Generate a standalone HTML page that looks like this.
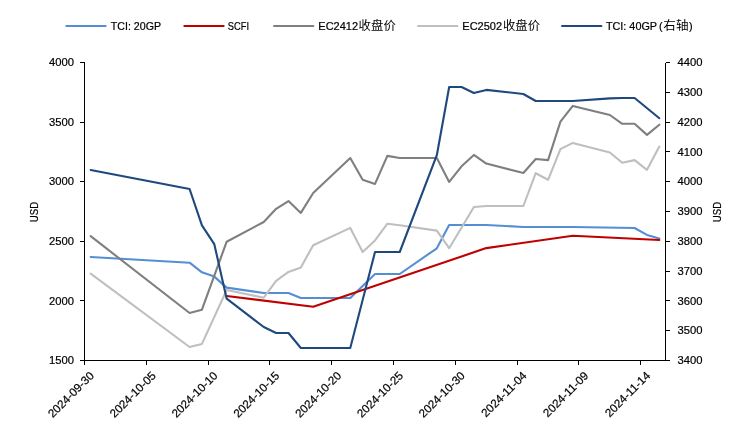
<!DOCTYPE html>
<html><head><meta charset="utf-8"><title>chart</title>
<style>html,body{margin:0;padding:0;background:#fff;width:750px;height:434px;overflow:hidden}svg{display:block;will-change:transform}text.l{stroke:#000;stroke-width:0.2px}</style>
</head><body>
<svg width="750" height="434" viewBox="0 0 750 434">
<rect width="750" height="434" fill="#ffffff"/>
<path d="M84.5 62.5V360.5 M665.5 62.5V360.5 M80 360.5H670 M80 62.50H84.5 M80 122.10H84.5 M80 181.70H84.5 M80 241.30H84.5 M80 300.90H84.5 M80 360.50H84.5 M665.5 62.50H670 M665.5 92.30H670 M665.5 122.10H670 M665.5 151.90H670 M665.5 181.70H670 M665.5 211.50H670 M665.5 241.30H670 M665.5 271.10H670 M665.5 300.90H670 M665.5 330.70H670 M665.5 360.50H670 M84.5 360.5V365 M146.5 360.5V365 M208.5 360.5V365 M269.5 360.5V365 M331.5 360.5V365 M393.5 360.5V365 M455.5 360.5V365 M517.5 360.5V365 M578.5 360.5V365 M640.5 360.5V365" stroke="#000" stroke-width="1" fill="none" shape-rendering="crispEdges"/>
<polyline points="90.68,257.00 189.58,262.70 201.94,272.30 214.30,276.60 226.66,287.60 263.75,293.00 288.47,293.00 300.84,298.00 350.28,298.00 375.01,274.00 399.73,274.00 436.82,248.30 449.18,225.00 486.26,225.00 523.35,227.00 572.80,227.00 634.61,228.00 646.97,234.90 659.33,238.40" fill="none" stroke="#558ED5" stroke-width="2.1" stroke-linejoin="round" stroke-linecap="round"/>
<polyline points="226.66,296.00 313.20,306.80 486.26,248.10 572.80,235.80 659.33,240.00" fill="none" stroke="#C00000" stroke-width="2.1" stroke-linejoin="round" stroke-linecap="round"/>
<polyline points="90.68,236.20 189.58,313.00 201.94,309.70 226.66,241.70 263.75,222.00 276.11,208.80 288.47,201.10 300.84,212.90 313.20,193.00 350.28,158.00 362.64,179.80 375.01,183.90 387.37,155.90 399.73,158.00 436.82,158.00 449.18,181.90 461.54,166.30 473.90,154.90 486.26,163.60 523.35,173.00 535.71,159.00 548.08,160.10 560.44,121.60 572.80,105.90 609.88,115.00 622.25,123.80 634.61,123.80 646.97,134.90 659.33,124.70" fill="none" stroke="#7F7F7F" stroke-width="2.1" stroke-linejoin="round" stroke-linecap="round"/>
<polyline points="90.68,273.60 189.58,347.00 201.94,343.90 226.66,290.00 263.75,297.70 276.11,280.80 288.47,271.90 300.84,267.40 313.20,245.20 350.28,227.90 362.64,252.00 375.01,240.40 387.37,223.70 399.73,225.30 436.82,230.60 449.18,248.20 473.90,207.00 486.26,206.00 523.35,206.00 535.71,173.20 548.08,179.80 560.44,149.10 572.80,142.90 609.88,152.50 622.25,162.80 634.61,160.10 646.97,169.80 659.33,146.60" fill="none" stroke="#BFBFBF" stroke-width="2.1" stroke-linejoin="round" stroke-linecap="round"/>
<polyline points="90.68,170.00 189.58,189.00 201.94,225.40 214.30,244.20 226.66,298.70 263.75,327.00 276.11,333.00 288.47,333.00 300.84,348.00 350.28,348.00 375.01,252.00 399.73,252.00 436.82,155.20 449.18,87.00 461.54,87.00 473.90,93.00 486.26,89.90 523.35,94.00 535.71,101.00 572.80,101.00 609.88,98.40 622.25,98.00 634.61,98.00 659.33,118.20" fill="none" stroke="#1F497D" stroke-width="2.1" stroke-linejoin="round" stroke-linecap="round"/>
<text class="l" x="74" y="66.20" text-anchor="end" font-size="11" font-family="'Liberation Sans', 'Noto Sans CJK SC', sans-serif" fill="#000" textLength="25" lengthAdjust="spacingAndGlyphs">4000</text>
<text class="l" x="74" y="125.80" text-anchor="end" font-size="11" font-family="'Liberation Sans', 'Noto Sans CJK SC', sans-serif" fill="#000" textLength="25" lengthAdjust="spacingAndGlyphs">3500</text>
<text class="l" x="74" y="185.40" text-anchor="end" font-size="11" font-family="'Liberation Sans', 'Noto Sans CJK SC', sans-serif" fill="#000" textLength="25" lengthAdjust="spacingAndGlyphs">3000</text>
<text class="l" x="74" y="245.00" text-anchor="end" font-size="11" font-family="'Liberation Sans', 'Noto Sans CJK SC', sans-serif" fill="#000" textLength="25" lengthAdjust="spacingAndGlyphs">2500</text>
<text class="l" x="74" y="304.60" text-anchor="end" font-size="11" font-family="'Liberation Sans', 'Noto Sans CJK SC', sans-serif" fill="#000" textLength="25" lengthAdjust="spacingAndGlyphs">2000</text>
<text class="l" x="74" y="364.20" text-anchor="end" font-size="11" font-family="'Liberation Sans', 'Noto Sans CJK SC', sans-serif" fill="#000" textLength="25" lengthAdjust="spacingAndGlyphs">1500</text>
<text class="l" x="677.5" y="66.20" font-size="11" font-family="'Liberation Sans', 'Noto Sans CJK SC', sans-serif" fill="#000" textLength="25" lengthAdjust="spacingAndGlyphs">4400</text>
<text class="l" x="677.5" y="96.00" font-size="11" font-family="'Liberation Sans', 'Noto Sans CJK SC', sans-serif" fill="#000" textLength="25" lengthAdjust="spacingAndGlyphs">4300</text>
<text class="l" x="677.5" y="125.80" font-size="11" font-family="'Liberation Sans', 'Noto Sans CJK SC', sans-serif" fill="#000" textLength="25" lengthAdjust="spacingAndGlyphs">4200</text>
<text class="l" x="677.5" y="155.60" font-size="11" font-family="'Liberation Sans', 'Noto Sans CJK SC', sans-serif" fill="#000" textLength="25" lengthAdjust="spacingAndGlyphs">4100</text>
<text class="l" x="677.5" y="185.40" font-size="11" font-family="'Liberation Sans', 'Noto Sans CJK SC', sans-serif" fill="#000" textLength="25" lengthAdjust="spacingAndGlyphs">4000</text>
<text class="l" x="677.5" y="215.20" font-size="11" font-family="'Liberation Sans', 'Noto Sans CJK SC', sans-serif" fill="#000" textLength="25" lengthAdjust="spacingAndGlyphs">3900</text>
<text class="l" x="677.5" y="245.00" font-size="11" font-family="'Liberation Sans', 'Noto Sans CJK SC', sans-serif" fill="#000" textLength="25" lengthAdjust="spacingAndGlyphs">3800</text>
<text class="l" x="677.5" y="274.80" font-size="11" font-family="'Liberation Sans', 'Noto Sans CJK SC', sans-serif" fill="#000" textLength="25" lengthAdjust="spacingAndGlyphs">3700</text>
<text class="l" x="677.5" y="304.60" font-size="11" font-family="'Liberation Sans', 'Noto Sans CJK SC', sans-serif" fill="#000" textLength="25" lengthAdjust="spacingAndGlyphs">3600</text>
<text class="l" x="677.5" y="334.40" font-size="11" font-family="'Liberation Sans', 'Noto Sans CJK SC', sans-serif" fill="#000" textLength="25" lengthAdjust="spacingAndGlyphs">3500</text>
<text class="l" x="677.5" y="364.20" font-size="11" font-family="'Liberation Sans', 'Noto Sans CJK SC', sans-serif" fill="#000" textLength="25" lengthAdjust="spacingAndGlyphs">3400</text>
<text class="l" transform="translate(38.3 212.1) rotate(-90)" text-anchor="middle" font-size="11" font-family="'Liberation Sans', 'Noto Sans CJK SC', sans-serif" fill="#000" textLength="20.4" lengthAdjust="spacingAndGlyphs">USD</text>
<text class="l" transform="translate(720.9 212.1) rotate(-90)" text-anchor="middle" font-size="11" font-family="'Liberation Sans', 'Noto Sans CJK SC', sans-serif" fill="#000" textLength="20.4" lengthAdjust="spacingAndGlyphs">USD</text>
<text class="l" transform="translate(94.70 376.4) rotate(-45)" text-anchor="end" font-size="11.6" font-family="'Liberation Sans', 'Noto Sans CJK SC', sans-serif" fill="#000">2024-09-30</text>
<text class="l" transform="translate(156.51 376.4) rotate(-45)" text-anchor="end" font-size="11.6" font-family="'Liberation Sans', 'Noto Sans CJK SC', sans-serif" fill="#000">2024-10-05</text>
<text class="l" transform="translate(218.32 376.4) rotate(-45)" text-anchor="end" font-size="11.6" font-family="'Liberation Sans', 'Noto Sans CJK SC', sans-serif" fill="#000">2024-10-10</text>
<text class="l" transform="translate(280.13 376.4) rotate(-45)" text-anchor="end" font-size="11.6" font-family="'Liberation Sans', 'Noto Sans CJK SC', sans-serif" fill="#000">2024-10-15</text>
<text class="l" transform="translate(341.94 376.4) rotate(-45)" text-anchor="end" font-size="11.6" font-family="'Liberation Sans', 'Noto Sans CJK SC', sans-serif" fill="#000">2024-10-20</text>
<text class="l" transform="translate(403.75 376.4) rotate(-45)" text-anchor="end" font-size="11.6" font-family="'Liberation Sans', 'Noto Sans CJK SC', sans-serif" fill="#000">2024-10-25</text>
<text class="l" transform="translate(465.56 376.4) rotate(-45)" text-anchor="end" font-size="11.6" font-family="'Liberation Sans', 'Noto Sans CJK SC', sans-serif" fill="#000">2024-10-30</text>
<text class="l" transform="translate(527.37 376.4) rotate(-45)" text-anchor="end" font-size="11.6" font-family="'Liberation Sans', 'Noto Sans CJK SC', sans-serif" fill="#000">2024-11-04</text>
<text class="l" transform="translate(589.18 376.4) rotate(-45)" text-anchor="end" font-size="11.6" font-family="'Liberation Sans', 'Noto Sans CJK SC', sans-serif" fill="#000">2024-11-09</text>
<text class="l" transform="translate(650.99 376.4) rotate(-45)" text-anchor="end" font-size="11.6" font-family="'Liberation Sans', 'Noto Sans CJK SC', sans-serif" fill="#000">2024-11-14</text>
<line x1="66.3" y1="26" x2="105.7" y2="26" stroke="#558ED5" stroke-width="2" stroke-linecap="round"/>
<line x1="184.3" y1="26" x2="223.7" y2="26" stroke="#C00000" stroke-width="2" stroke-linecap="round"/>
<line x1="274.0" y1="26" x2="313.4" y2="26" stroke="#7F7F7F" stroke-width="2" stroke-linecap="round"/>
<line x1="418.0" y1="26" x2="457.4" y2="26" stroke="#BFBFBF" stroke-width="2" stroke-linecap="round"/>
<line x1="562.0" y1="26" x2="601.4" y2="26" stroke="#1F497D" stroke-width="2" stroke-linecap="round"/>
<text class="l" x="110.8" y="29.8" font-size="10.6" font-family="'Liberation Sans', sans-serif" fill="#000" textLength="50.2" lengthAdjust="spacingAndGlyphs">TCI: 20GP</text>
<text class="l" x="227.8" y="29.8" font-size="10.6" font-family="'Liberation Sans', sans-serif" fill="#000" textLength="21.2" lengthAdjust="spacingAndGlyphs">SCFI</text>
<text class="l" x="318.3" y="29.8" font-size="10.6" font-family="'Liberation Sans', sans-serif" fill="#000" textLength="39.8" lengthAdjust="spacingAndGlyphs">EC2412</text>
<text x="358.6" y="30.1" font-size="12" font-family="'Liberation Sans', 'Noto Sans CJK SC', sans-serif" fill="#000" textLength="37.2" lengthAdjust="spacingAndGlyphs">收盘价</text>
<text class="l" x="462.3" y="29.8" font-size="10.6" font-family="'Liberation Sans', sans-serif" fill="#000" textLength="39.8" lengthAdjust="spacingAndGlyphs">EC2502</text>
<text x="502.9" y="30.1" font-size="12" font-family="'Liberation Sans', 'Noto Sans CJK SC', sans-serif" fill="#000" textLength="37.2" lengthAdjust="spacingAndGlyphs">收盘价</text>
<text class="l" x="605.9" y="29.8" font-size="10.6" font-family="'Liberation Sans', sans-serif" fill="#000" textLength="51.2" lengthAdjust="spacingAndGlyphs">TCI: 40GP</text>
<text class="l" x="659.0" y="29.8" font-size="10.6" font-family="'Liberation Sans', sans-serif" fill="#000" textLength="3.6" lengthAdjust="spacingAndGlyphs">(</text>
<text x="663.3" y="30.1" font-size="12" font-family="'Liberation Sans', 'Noto Sans CJK SC', sans-serif" fill="#000" textLength="25.2" lengthAdjust="spacingAndGlyphs">右轴</text>
<text class="l" x="688.9" y="29.8" font-size="10.6" font-family="'Liberation Sans', sans-serif" fill="#000" textLength="3.6" lengthAdjust="spacingAndGlyphs">)</text>
</svg>
</body></html>
